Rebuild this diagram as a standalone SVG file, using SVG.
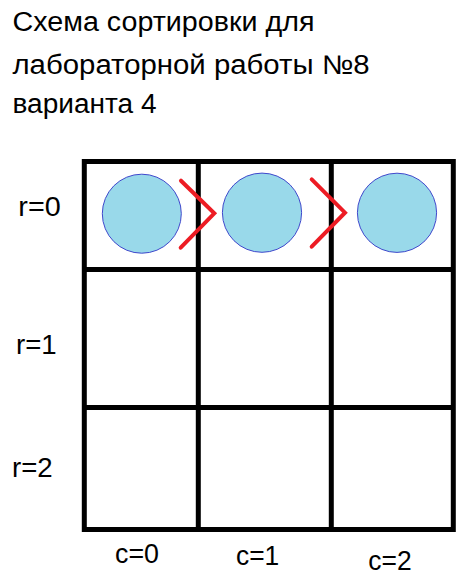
<svg xmlns="http://www.w3.org/2000/svg" width="472" height="579" viewBox="0 0 472 579">
<style>
text { font-family: "Liberation Sans", "Noto Sans", sans-serif; fill: #000; }
.title { font-size: 27px; }
.lbl { font-size: 27px; }
.grid { fill: none; stroke: #000; stroke-width: 5; }
.ball { fill: #99D9EA; stroke: #3F48CC; stroke-width: 1; }
.cmp { fill: none; stroke: #ED1C24; stroke-width: 4; stroke-linecap: round; stroke-linejoin: miter; }
</style>
<rect x="0" y="0" width="472" height="579" fill="#fff"/>
<g id="title">
<text class="title" x="12.5" y="31" textLength="302" lengthAdjust="spacingAndGlyphs">Схема сортировки для</text>
<text class="title" x="12.5" y="74" textLength="357" lengthAdjust="spacingAndGlyphs">лабораторной работы №8</text>
<text class="title" x="12.5" y="113" textLength="144" lengthAdjust="spacingAndGlyphs">варианта 4</text>
</g>
<g id="grid">
<rect class="grid" x="84.3" y="161.5" width="369" height="368"/>
<line class="grid" x1="198.3" y1="161.5" x2="198.3" y2="529.5"/>
<line class="grid" x1="331.3" y1="161.5" x2="331.3" y2="529.5"/>
<line class="grid" x1="84.3" y1="269.5" x2="453.3" y2="269.5"/>
<line class="grid" x1="84.3" y1="407.5" x2="453.3" y2="407.5"/>
</g>
<g id="ball-0"><circle class="ball" cx="141.8" cy="213.7" r="39.5"/></g>
<g id="ball-1"><circle class="ball" cx="262" cy="212.7" r="39.6"/></g>
<g id="ball-2"><circle class="ball" cx="397" cy="212.8" r="39.6"/></g>
<g id="connectors">
<polyline class="cmp" points="181,180.7 214.3,213.3 180.7,247.7"/>
<polyline class="cmp" points="311.7,179.3 345,212.7 311.7,246.7"/>
</g>
<g id="labels">
<text class="lbl" x="18.3" y="215.7" textLength="42.4" lengthAdjust="spacingAndGlyphs">r=0</text>
<text class="lbl" x="16" y="354" textLength="40.7" lengthAdjust="spacingAndGlyphs">r=1</text>
<text class="lbl" x="12" y="477.3" textLength="40.7" lengthAdjust="spacingAndGlyphs">r=2</text>
<text class="lbl" x="115" y="563.3" textLength="44" lengthAdjust="spacingAndGlyphs">c=0</text>
<text class="lbl" x="236" y="565" textLength="43.3" lengthAdjust="spacingAndGlyphs">c=1</text>
<text class="lbl" x="368.3" y="570" textLength="43.4" lengthAdjust="spacingAndGlyphs">c=2</text>
</g>
</svg>
